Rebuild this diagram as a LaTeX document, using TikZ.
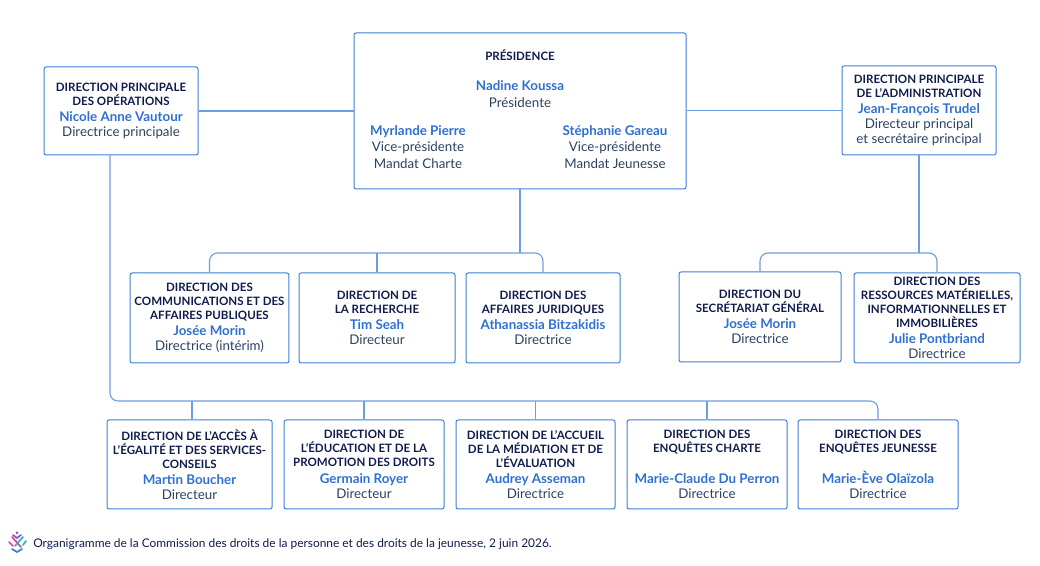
\documentclass[tikz,border=0pt]{standalone}
\usepackage{fontspec}
\setmainfont{Lato}
\definecolor{titleblue}{HTML}{0F1C4D}
\definecolor{nameblue}{HTML}{2F70D2}
\definecolor{roleblue}{HTML}{2C4262}
\definecolor{lineblue}{HTML}{3F7FDB}
\definecolor{wireblue}{HTML}{6D9DE4}
\definecolor{logopink}{HTML}{E0459A}
\definecolor{logoteal}{HTML}{2CB5B8}
\definecolor{logoblue}{HTML}{3D7FE0}
\definecolor{logopurple}{HTML}{8A5CC8}
\newcommand{\orgtitle}[1]{{\color{titleblue}\fontsize{8.65}{10.5}\selectfont\bfseries #1}}
\newcommand{\orgname}[1]{{\color{nameblue}\fontsize{10}{10.5}\selectfont\bfseries #1}}
\newcommand{\orgrole}[1]{{\color{roleblue}\fontsize{10}{10.5}\selectfont #1}}
\newcommand{\orgperson}[2]{\\[1.6pt]\orgname{#1}\\[0.9pt]\orgrole{#2}}
\begin{document}
\begin{tikzpicture}[
    x=0.75pt, y=-0.75pt,
    every node/.style={font=\fontsize{8.65}{10.5}\selectfont},
    orgbox/.style={rectangle, draw=lineblue, line width=0.75pt, rounded corners=1.5pt, fill=white, align=center, inner sep=0pt},
    orgtext/.style={align=center, inner sep=0pt},
    wire/.style={draw=wireblue, line width=0.85pt, rounded corners=6pt},
    logostroke/.style={line width=1.3pt, line cap=round}
]
    \useasboundingbox (0,0) rectangle (1040,566);

    % Top row
    \node[orgbox, minimum width=249pt, minimum height=117pt] (pres) at (520,111) {};
    \node[orgtext] (prestitle) at (520,55.5) {\orgtitle{PRÉSIDENCE}};
    \node[orgtext] (preshead) at (520,94) {\orgname{Nadine Koussa}\\[2.5pt]\orgrole{Présidente}};
    \node[orgtext] (vpcharte) at (418,147) {\orgname{Myrlande Pierre}\\[2pt]\orgrole{Vice-présidente}\\[2pt]\orgrole{Mandat Charte}};
    \node[orgtext] (vpjeune) at (615,147) {\orgname{Stéphanie Gareau}\\[2pt]\orgrole{Vice-présidente}\\[2pt]\orgrole{Mandat Jeunesse}};

    \node[orgbox, minimum width=115.5pt, minimum height=66pt] (ops) at (121,111) {\orgtitle{DIRECTION PRINCIPALE}\\\orgtitle{DES OPÉRATIONS}\orgperson{Nicole Anne Vautour}{Directrice principale}};
    \node[orgbox, minimum width=115.5pt, minimum height=66.75pt] (admin) at (919,110.5) {\orgtitle{DIRECTION PRINCIPALE}\\\orgtitle{DE L’ADMINISTRATION}\orgperson{Jean-François Trudel}{Directeur principal}\\[0.9pt]\orgrole{et secrétaire principal}};

    % Middle row
    \node[orgbox, minimum width=119pt, minimum height=67.5pt] (comm) at (209.5,318) {\orgtitle{DIRECTION DES}\\\orgtitle{COMMUNICATIONS ET DES}\\\orgtitle{AFFAIRES PUBLIQUES}\orgperson{Josée Morin}{Directrice (intérim)}};
    \node[orgbox, minimum width=117pt, minimum height=67.5pt] (rech) at (377,318) {\orgtitle{DIRECTION DE}\\\orgtitle{LA RECHERCHE}\orgperson{Tim Seah}{Directeur}};
    \node[orgbox, minimum width=115.5pt, minimum height=67.5pt] (jur) at (543,318) {\orgtitle{DIRECTION DES}\\\orgtitle{AFFAIRES JURIDIQUES}\orgperson{Athanassia Bitzakidis}{Directrice}};
    \node[orgbox, minimum width=121.5pt, minimum height=67.5pt] (sec) at (760,317) {\orgtitle{DIRECTION DU}\\\orgtitle{SECRÉTARIAT GÉNÉRAL}\orgperson{Josée Morin}{Directrice}};
    \node[orgbox, minimum width=124.5pt, minimum height=67.5pt] (res) at (937,318) {\orgtitle{DIRECTION DES}\\\orgtitle{RESSOURCES MATÉRIELLES,}\\\orgtitle{INFORMATIONNELLES ET}\\\orgtitle{IMMOBILIÈRES}\orgperson{Julie Pontbriand}{Directrice}};

    % Bottom row
    \node[orgbox, minimum width=123.75pt, minimum height=66.75pt] (acces) at (189.5,464.5) {\orgtitle{DIRECTION DE L’ACCÈS À}\\\orgtitle{L’ÉGALITÉ ET DES SERVICES-}\\\orgtitle{CONSEILS}\orgperson{Martin Boucher}{Directeur}};
    \node[orgbox, minimum width=120pt, minimum height=66.75pt] (educ) at (364,464.5) {\orgtitle{DIRECTION DE}\\\orgtitle{L’ÉDUCATION ET DE LA}\\\orgtitle{PROMOTION DES DROITS}\orgperson{Germain Royer}{Directeur}};
    \node[orgbox, minimum width=119.25pt, minimum height=66.75pt] (accueil) at (535.5,464.5) {\orgtitle{DIRECTION DE L’ACCUEIL}\\\orgtitle{DE LA MÉDIATION ET DE}\\\orgtitle{L’ÉVALUATION}\orgperson{Audrey Asseman}{Directrice}};
    \node[orgbox, minimum width=120pt, minimum height=66.75pt] (charte) at (707,464.5) {\orgtitle{DIRECTION DES}\\\orgtitle{ENQUÊTES CHARTE}\\\orgtitle{~}\orgperson{Marie-Claude Du Perron}{Directrice}};
    \node[orgbox, minimum width=120pt, minimum height=66.75pt] (jeune) at (878,464.5) {\orgtitle{DIRECTION DES}\\\orgtitle{ENQUÊTES JEUNESSE}\\\orgtitle{~}\orgperson{Marie-Ève Olaïzola}{Directrice}};

    % Connectors
    \coordinate (busmid) at (520,253);
    \coordinate (busadmin) at (919,253);
    \coordinate (busbas) at (110,401);
    \coordinate (dropacces) at (192,401);

    \draw[wire] (ops.east) -- (pres.west |- ops.east);
    \draw[wire] (pres.east |- admin.east) -- (admin.west);
    \draw[wire] (pres.south -| busmid) -- (busmid);
    \draw[wire] (comm.north) -- (comm.north |- busmid) -- (jur.north |- busmid) -- (jur.north);
    \draw[wire] (rech.north) -- (rech.north |- busmid);
    \draw[wire] (admin.south) -- (busadmin);
    \draw[wire] (sec.north) -- (sec.north |- busadmin) -- (res.north |- busadmin) -- (res.north);
    \draw[wire] (ops.south -| busbas) -- (busbas) -- (busbas -| jeune.north) -- (jeune.north);
    \draw[wire] (dropacces) -- (dropacces |- acces.north);
    \draw[wire] (educ.north) -- (educ.north |- busbas);
    \draw[wire] (accueil.north) -- (accueil.north |- busbas);
    \draw[wire] (charte.north) -- (charte.north |- busbas);

    % Footer
    \node[orgtext, anchor=west] (legende) at (33,544) {\color{titleblue}\fontsize{8.95}{10.5}\selectfont Organigramme de la Commission des droits de la personne et des droits de la jeunesse, 2 juin 2026.};
    \draw[logostroke, logopink] (12,537) -- (21,547);
    \draw[logostroke, logopink] (9,542) -- (13,546);
    \draw[logostroke, logoteal] (23,537) -- (15,546);
    \draw[logostroke, logoteal] (26,541) -- (23,545);
    \draw[logostroke, logoblue] (12,549) -- (17,552) -- (22,549);
    \draw[logostroke, logopurple] (13,535) -- (17,538) -- (21,535);
    \fill[logopurple] (17,533) circle (1.5);
\end{tikzpicture}
\end{document}
